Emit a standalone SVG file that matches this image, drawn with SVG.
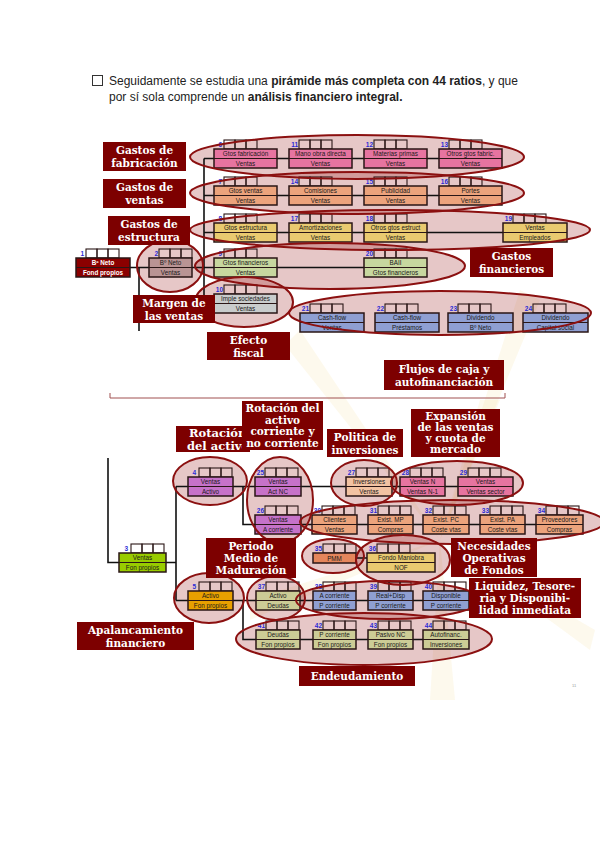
<svg xmlns="http://www.w3.org/2000/svg" width="600" height="848" viewBox="0 0 600 848">
<style>
.hd{font-family:"Liberation Sans",Arial,sans-serif;font-size:12px;fill:#222}
.hb{font-weight:bold}
.n{font-family:"Liberation Sans",Arial,sans-serif;font-size:6.5px;font-weight:bold;fill:#2b2bd6;text-anchor:end}
.sq{fill:none;stroke:#2a1616;stroke-width:1.1}
.bx{stroke:#2a1616;stroke-width:1.5}
.dv{stroke:#2a1616;stroke-width:1}
.t{font-family:"Liberation Sans",Arial,sans-serif;font-size:6.3px;fill:#1a1a1a;text-anchor:middle}
.tw{font-family:"Liberation Sans",Arial,sans-serif;font-size:6.3px;font-weight:bold;fill:#fff;text-anchor:middle}
.pink{fill:#e674a0}.sal{fill:#eca37c}.yel{fill:#e9ca70}.grn{fill:#c7d79f}.gry{fill:#c9cccc}
.blu{fill:#8f9fd2}.red{fill:#8b0000}.ros{fill:#b99494}.lg{fill:#99cc00}.pur{fill:#c672c9}
.pea{fill:#f2c2a2}.ora{fill:#eca37c}.pmm{fill:#e5865c}.gold{fill:#e8a000}.kha{fill:#cccc96}
.ef{fill:#8b0000;fill-opacity:0.22;stroke:none}
.es{fill:none;stroke:#8b1010;stroke-width:2}
.lb{fill:#7d0000}
.lt{font-family:"DejaVu Serif","Liberation Serif",serif;font-size:10.5px;font-weight:bold;fill:#fff;text-anchor:middle}
.ls{font-family:"DejaVu Serif","Liberation Serif",serif;font-size:11.5px;font-weight:bold;fill:#fff}
.ln{stroke:#111;stroke-width:1.6;fill:none}
.ray{fill:#f6e2a6;opacity:0.2}
</style>
<defs>
<clipPath id="clipRot"><rect x="176" y="426" width="66" height="26"/></clipPath>
<g id="E">
<ellipse cx="357" cy="157" rx="167" ry="22"/>
<ellipse cx="357" cy="193" rx="167" ry="21"/>
<ellipse cx="390" cy="230" rx="200" ry="20"/>
<ellipse cx="170" cy="266" rx="33" ry="26"/>
<ellipse cx="330" cy="266" rx="135" ry="23"/>
<ellipse cx="244" cy="302" rx="49" ry="25"/>
<ellipse cx="440" cy="313" rx="151" ry="22"/>
<ellipse cx="210" cy="481" rx="37" ry="24"/>
<ellipse cx="280" cy="500" rx="33" ry="43"/>
<ellipse cx="364" cy="483" rx="33" ry="23"/>
<ellipse cx="457" cy="483" rx="66" ry="22"/>
<ellipse cx="452" cy="522" rx="152" ry="22"/>
<ellipse cx="333" cy="556" rx="31" ry="17"/>
<ellipse cx="403" cy="560" rx="47" ry="25"/>
<ellipse cx="209" cy="598" rx="35" ry="25"/>
<ellipse cx="276" cy="598" rx="29" ry="22"/>
<ellipse cx="388" cy="600" rx="92" ry="19"/>
<ellipse cx="364" cy="639" rx="128" ry="26"/>
</g>
</defs>
<rect width="600" height="848" fill="#fff"/>
<g id="watermark">
<polygon class="ray" points="440,540 480,400 500,400"/>
<polygon class="ray" points="440,540 300,330 285,345"/>
<polygon class="ray" points="440,540 520,290 540,300"/>
<polygon class="ray" points="440,540 430,700 455,700"/>
<polygon class="ray" points="440,540 590,650 595,630"/>
<polygon class="ray" points="440,540 250,600 250,620"/>
</g>
<g id="intro">
<rect x="92.5" y="75.5" width="10" height="10" fill="none" stroke="#333" stroke-width="1"/>
<text class="hd" x="109" y="85">Seguidamente se estudia una <tspan class="hb">pirámide más completa con 44 ratios</tspan>, y que</text>
<text class="hd" x="109" y="101">por sí sola comprende un <tspan class="hb">análisis financiero integral.</tspan></text>
</g>
<g id="ellipse-fills" class="ef"><use href="#E"/></g>
<g id="connectors">
<path class="ln" d="M130,267.5H149M192,267.5H204M139,267.5V331M204,158.5V303.5"/>
<path class="ln" d="M204,158.5H214M277,158.5H289M352,158.5H364M427,158.5H439"/>
<path class="ln" d="M204,195.5H214M277,195.5H289M352,195.5H364M427,195.5H439"/>
<path class="ln" d="M204,232.5H214M277,232.5H289M352,232.5H364M427,232.5H503"/>
<path class="ln" d="M204,267.5H214M277,267.5H364M204,303.5H214"/>
<path class="ln" d="M108,458V562.5H119M166,562.5H176M176,486.5V600.5M176,486.5H188M176,600.5H188"/>
<path class="ln" d="M233,486.5H255M243,486.5V524.5H255M301,486.5H346M392,486.5H400M445,486.5H458"/>
<path class="ln" d="M301,524.5H312M357,524.5H368M413,524.5H423M469,524.5H480M525,524.5H536M356,558H367"/>
<path class="ln" d="M233,600.5H256M243,600.5V639.5H256M300,600.5H313M356,600.5H368M413,600.5H423"/>
<path class="ln" d="M300,639.5H313M356,639.5H368M413,639.5H423"/>
<path d="M110,393V398H505V393" fill="none" stroke="#a05050" stroke-width="1"/>
</g>
<g id="r1"><text class="n" x="84" y="256">1</text><rect class="sq" x="86" y="249" width="11" height="9"/><rect class="sq" x="97" y="249" width="11" height="9"/><rect class="sq" x="108" y="249" width="11" height="9"/><rect class="bx red" x="76" y="258" width="54" height="19"/><line class="dv" x1="76" y1="267.5" x2="130" y2="267.5"/><text class="tw" x="103" y="265.3">Bº Neto</text><text class="tw" x="103" y="274.8">Fond propios</text></g>
<g id="r2"><text class="n" x="158" y="256">2</text><rect class="sq" x="159" y="249" width="11" height="9"/><rect class="sq" x="170" y="249" width="11" height="9"/><rect class="sq" x="181" y="249" width="11" height="9"/><rect class="bx ros" x="149" y="258" width="43" height="19"/><line class="dv" x1="149" y1="267.5" x2="192" y2="267.5"/><text class="t" x="170.5" y="265.3">Bº Neto</text><text class="t" x="170.5" y="274.8">Ventas</text></g>
<g id="r6"><text class="n" x="222" y="147">6</text><rect class="sq" x="224" y="140" width="11" height="9"/><rect class="sq" x="235" y="140" width="11" height="9"/><rect class="sq" x="246" y="140" width="11" height="9"/><rect class="bx pink" x="214" y="149" width="63" height="19"/><line class="dv" x1="214" y1="158.5" x2="277" y2="158.5"/><text class="t" x="245.5" y="156.3">Gtos fabricación</text><text class="t" x="245.5" y="165.8">Ventas</text></g>
<g id="r11"><text class="n" x="298" y="147">11</text><rect class="sq" x="299" y="140" width="11" height="9"/><rect class="sq" x="310" y="140" width="11" height="9"/><rect class="sq" x="321" y="140" width="11" height="9"/><rect class="bx pink" x="289" y="149" width="63" height="19"/><line class="dv" x1="289" y1="158.5" x2="352" y2="158.5"/><text class="t" x="320.5" y="156.3">Mano obra directa</text><text class="t" x="320.5" y="165.8">Ventas</text></g>
<g id="r12"><text class="n" x="373" y="147">12</text><rect class="sq" x="374" y="140" width="11" height="9"/><rect class="sq" x="385" y="140" width="11" height="9"/><rect class="sq" x="396" y="140" width="11" height="9"/><rect class="bx pink" x="364" y="149" width="63" height="19"/><line class="dv" x1="364" y1="158.5" x2="427" y2="158.5"/><text class="t" x="395.5" y="156.3">Materias primas</text><text class="t" x="395.5" y="165.8">Ventas</text></g>
<g id="r13"><text class="n" x="448" y="147">13</text><rect class="sq" x="449" y="140" width="11" height="9"/><rect class="sq" x="460" y="140" width="11" height="9"/><rect class="sq" x="471" y="140" width="11" height="9"/><rect class="bx pink" x="439" y="149" width="63" height="19"/><line class="dv" x1="439" y1="158.5" x2="502" y2="158.5"/><text class="t" x="470.5" y="156.3">Otros gtos fabric.</text><text class="t" x="470.5" y="165.8">Ventas</text></g>
<g id="r7"><text class="n" x="222" y="184">7</text><rect class="sq" x="224" y="177" width="11" height="9"/><rect class="sq" x="235" y="177" width="11" height="9"/><rect class="sq" x="246" y="177" width="11" height="9"/><rect class="bx sal" x="214" y="186" width="63" height="19"/><line class="dv" x1="214" y1="195.5" x2="277" y2="195.5"/><text class="t" x="245.5" y="193.3">Gtos ventas</text><text class="t" x="245.5" y="202.8">Ventas</text></g>
<g id="r14"><text class="n" x="298" y="184">14</text><rect class="sq" x="299" y="177" width="11" height="9"/><rect class="sq" x="310" y="177" width="11" height="9"/><rect class="sq" x="321" y="177" width="11" height="9"/><rect class="bx sal" x="289" y="186" width="63" height="19"/><line class="dv" x1="289" y1="195.5" x2="352" y2="195.5"/><text class="t" x="320.5" y="193.3">Comisiones</text><text class="t" x="320.5" y="202.8">Ventas</text></g>
<g id="r15"><text class="n" x="373" y="184">15</text><rect class="sq" x="374" y="177" width="11" height="9"/><rect class="sq" x="385" y="177" width="11" height="9"/><rect class="sq" x="396" y="177" width="11" height="9"/><rect class="bx sal" x="364" y="186" width="63" height="19"/><line class="dv" x1="364" y1="195.5" x2="427" y2="195.5"/><text class="t" x="395.5" y="193.3">Publicidad</text><text class="t" x="395.5" y="202.8">Ventas</text></g>
<g id="r16"><text class="n" x="448" y="184">16</text><rect class="sq" x="449" y="177" width="11" height="9"/><rect class="sq" x="460" y="177" width="11" height="9"/><rect class="sq" x="471" y="177" width="11" height="9"/><rect class="bx sal" x="439" y="186" width="63" height="19"/><line class="dv" x1="439" y1="195.5" x2="502" y2="195.5"/><text class="t" x="470.5" y="193.3">Portes</text><text class="t" x="470.5" y="202.8">Ventas</text></g>
<g id="r8"><text class="n" x="222" y="221">8</text><rect class="sq" x="224" y="214" width="11" height="9"/><rect class="sq" x="235" y="214" width="11" height="9"/><rect class="sq" x="246" y="214" width="11" height="9"/><rect class="bx yel" x="214" y="223" width="63" height="19"/><line class="dv" x1="214" y1="232.5" x2="277" y2="232.5"/><text class="t" x="245.5" y="230.3">Gtos estructura</text><text class="t" x="245.5" y="239.8">Ventas</text></g>
<g id="r17"><text class="n" x="298" y="221">17</text><rect class="sq" x="299" y="214" width="11" height="9"/><rect class="sq" x="310" y="214" width="11" height="9"/><rect class="sq" x="321" y="214" width="11" height="9"/><rect class="bx yel" x="289" y="223" width="63" height="19"/><line class="dv" x1="289" y1="232.5" x2="352" y2="232.5"/><text class="t" x="320.5" y="230.3">Amortizaciones</text><text class="t" x="320.5" y="239.8">Ventas</text></g>
<g id="r18"><text class="n" x="373" y="221">18</text><rect class="sq" x="374" y="214" width="11" height="9"/><rect class="sq" x="385" y="214" width="11" height="9"/><rect class="sq" x="396" y="214" width="11" height="9"/><rect class="bx yel" x="364" y="223" width="63" height="19"/><line class="dv" x1="364" y1="232.5" x2="427" y2="232.5"/><text class="t" x="395.5" y="230.3">Otros gtos estruct</text><text class="t" x="395.5" y="239.8">Ventas</text></g>
<g id="r19"><text class="n" x="512" y="221">19</text><rect class="sq" x="513" y="214" width="11" height="9"/><rect class="sq" x="524" y="214" width="11" height="9"/><rect class="sq" x="535" y="214" width="11" height="9"/><rect class="bx yel" x="503" y="223" width="64" height="19"/><line class="dv" x1="503" y1="232.5" x2="567" y2="232.5"/><text class="t" x="535" y="230.3">Ventas</text><text class="t" x="535" y="239.8">Empleados</text></g>
<g id="r9"><text class="n" x="222" y="256">9</text><rect class="sq" x="224" y="249" width="11" height="9"/><rect class="sq" x="235" y="249" width="11" height="9"/><rect class="sq" x="246" y="249" width="11" height="9"/><rect class="bx grn" x="214" y="258" width="63" height="19"/><line class="dv" x1="214" y1="267.5" x2="277" y2="267.5"/><text class="t" x="245.5" y="265.3">Gtos financieros</text><text class="t" x="245.5" y="274.8">Ventas</text></g>
<g id="r20"><text class="n" x="373" y="256">20</text><rect class="sq" x="374" y="249" width="11" height="9"/><rect class="sq" x="385" y="249" width="11" height="9"/><rect class="sq" x="396" y="249" width="11" height="9"/><rect class="bx grn" x="364" y="258" width="63" height="19"/><line class="dv" x1="364" y1="267.5" x2="427" y2="267.5"/><text class="t" x="395.5" y="265.3">BAII</text><text class="t" x="395.5" y="274.8">Gtos financieros</text></g>
<g id="r10"><text class="n" x="223" y="292">10</text><rect class="sq" x="224" y="285" width="11" height="9"/><rect class="sq" x="235" y="285" width="11" height="9"/><rect class="sq" x="246" y="285" width="11" height="9"/><rect class="bx gry" x="214" y="294" width="63" height="19"/><line class="dv" x1="214" y1="303.5" x2="277" y2="303.5"/><text class="t" x="245.5" y="301.3">Imple sociedades</text><text class="t" x="245.5" y="310.8">Ventas</text></g>
<g id="r21"><text class="n" x="309" y="311">21</text><rect class="sq" x="310" y="304" width="11" height="9"/><rect class="sq" x="321" y="304" width="11" height="9"/><rect class="sq" x="332" y="304" width="11" height="9"/><rect class="bx blu" x="300" y="313" width="64" height="19"/><line class="dv" x1="300" y1="322.5" x2="364" y2="322.5"/><text class="t" x="332" y="320.3">Cash-flow</text><text class="t" x="332" y="329.8">Ventas</text></g>
<g id="r22"><text class="n" x="384" y="311">22</text><rect class="sq" x="385" y="304" width="11" height="9"/><rect class="sq" x="396" y="304" width="11" height="9"/><rect class="sq" x="407" y="304" width="11" height="9"/><rect class="bx blu" x="375" y="313" width="64" height="19"/><line class="dv" x1="375" y1="322.5" x2="439" y2="322.5"/><text class="t" x="407" y="320.3">Cash-flow</text><text class="t" x="407" y="329.8">Préstamos</text></g>
<g id="r23"><text class="n" x="457" y="311">23</text><rect class="sq" x="458" y="304" width="11" height="9"/><rect class="sq" x="469" y="304" width="11" height="9"/><rect class="sq" x="480" y="304" width="11" height="9"/><rect class="bx blu" x="448" y="313" width="65" height="19"/><line class="dv" x1="448" y1="322.5" x2="513" y2="322.5"/><text class="t" x="480.5" y="320.3">Dividendo</text><text class="t" x="480.5" y="329.8">Bº Neto</text></g>
<g id="r24"><text class="n" x="532" y="311">24</text><rect class="sq" x="533" y="304" width="11" height="9"/><rect class="sq" x="544" y="304" width="11" height="9"/><rect class="sq" x="555" y="304" width="11" height="9"/><rect class="bx blu" x="523" y="313" width="65" height="19"/><line class="dv" x1="523" y1="322.5" x2="588" y2="322.5"/><text class="t" x="555.5" y="320.3">Dividendo</text><text class="t" x="555.5" y="329.8">Capital social</text></g>
<g id="r3"><text class="n" x="128" y="551">3</text><rect class="sq" x="131" y="544" width="11" height="9"/><rect class="sq" x="142" y="544" width="11" height="9"/><rect class="sq" x="153" y="544" width="11" height="9"/><rect class="bx lg" x="119" y="553" width="47" height="19"/><line class="dv" x1="119" y1="562.5" x2="166" y2="562.5"/><text class="t" x="142.5" y="560.3">Ventas</text><text class="t" x="142.5" y="569.8">Fon propios</text></g>
<g id="r4"><text class="n" x="196" y="475">4</text><rect class="sq" x="199" y="468" width="11" height="9"/><rect class="sq" x="210" y="468" width="11" height="9"/><rect class="sq" x="221" y="468" width="11" height="9"/><rect class="bx pur" x="188" y="477" width="45" height="19"/><line class="dv" x1="188" y1="486.5" x2="233" y2="486.5"/><text class="t" x="210.5" y="484.3">Ventas</text><text class="t" x="210.5" y="493.8">Activo</text></g>
<g id="r5"><text class="n" x="196" y="589">5</text><rect class="sq" x="199" y="582" width="11" height="9"/><rect class="sq" x="210" y="582" width="11" height="9"/><rect class="sq" x="221" y="582" width="11" height="9"/><rect class="bx gold" x="188" y="591" width="45" height="19"/><line class="dv" x1="188" y1="600.5" x2="233" y2="600.5"/><text class="t" x="210.5" y="598.3">Activo</text><text class="t" x="210.5" y="607.8">Fon propios</text></g>
<g id="r25"><text class="n" x="264" y="475">25</text><rect class="sq" x="265" y="468" width="11" height="9"/><rect class="sq" x="276" y="468" width="11" height="9"/><rect class="sq" x="287" y="468" width="11" height="9"/><rect class="bx pur" x="255" y="477" width="46" height="19"/><line class="dv" x1="255" y1="486.5" x2="301" y2="486.5"/><text class="t" x="278" y="484.3">Ventas</text><text class="t" x="278" y="493.8">Act NC</text></g>
<g id="r26"><text class="n" x="264" y="513">26</text><rect class="sq" x="265" y="506" width="11" height="9"/><rect class="sq" x="276" y="506" width="11" height="9"/><rect class="sq" x="287" y="506" width="11" height="9"/><rect class="bx pur" x="255" y="515" width="46" height="19"/><line class="dv" x1="255" y1="524.5" x2="301" y2="524.5"/><text class="t" x="278" y="522.3">Ventas</text><text class="t" x="278" y="531.8">A corriente</text></g>
<g id="r27"><text class="n" x="355" y="475">27</text><rect class="sq" x="356" y="468" width="11" height="9"/><rect class="sq" x="367" y="468" width="11" height="9"/><rect class="sq" x="378" y="468" width="11" height="9"/><rect class="bx pea" x="346" y="477" width="46" height="19"/><line class="dv" x1="346" y1="486.5" x2="392" y2="486.5"/><text class="t" x="369" y="484.3">Inversiones</text><text class="t" x="369" y="493.8">Ventas</text></g>
<g id="r28"><text class="n" x="409" y="475">28</text><rect class="sq" x="410" y="468" width="11" height="9"/><rect class="sq" x="421" y="468" width="11" height="9"/><rect class="sq" x="432" y="468" width="11" height="9"/><rect class="bx pink" x="400" y="477" width="45" height="19"/><line class="dv" x1="400" y1="486.5" x2="445" y2="486.5"/><text class="t" x="422.5" y="484.3">Ventas N</text><text class="t" x="422.5" y="493.8">Ventas N-1</text></g>
<g id="r29"><text class="n" x="467" y="475">29</text><rect class="sq" x="468" y="468" width="11" height="9"/><rect class="sq" x="479" y="468" width="11" height="9"/><rect class="sq" x="490" y="468" width="11" height="9"/><rect class="bx pink" x="458" y="477" width="55" height="19"/><line class="dv" x1="458" y1="486.5" x2="513" y2="486.5"/><text class="t" x="485.5" y="484.3">Ventas</text><text class="t" x="485.5" y="493.8">Ventas sector</text></g>
<g id="r30"><text class="n" x="321" y="513">30</text><rect class="sq" x="322" y="506" width="11" height="9"/><rect class="sq" x="333" y="506" width="11" height="9"/><rect class="sq" x="344" y="506" width="11" height="9"/><rect class="bx ora" x="312" y="515" width="45" height="19"/><line class="dv" x1="312" y1="524.5" x2="357" y2="524.5"/><text class="t" x="334.5" y="522.3">Clientes</text><text class="t" x="334.5" y="531.8">Ventas</text></g>
<g id="r31"><text class="n" x="377" y="513">31</text><rect class="sq" x="378" y="506" width="11" height="9"/><rect class="sq" x="389" y="506" width="11" height="9"/><rect class="sq" x="400" y="506" width="11" height="9"/><rect class="bx ora" x="368" y="515" width="45" height="19"/><line class="dv" x1="368" y1="524.5" x2="413" y2="524.5"/><text class="t" x="390.5" y="522.3">Exist. MP</text><text class="t" x="390.5" y="531.8">Compras</text></g>
<g id="r32"><text class="n" x="432" y="513">32</text><rect class="sq" x="433" y="506" width="11" height="9"/><rect class="sq" x="444" y="506" width="11" height="9"/><rect class="sq" x="455" y="506" width="11" height="9"/><rect class="bx ora" x="423" y="515" width="46" height="19"/><line class="dv" x1="423" y1="524.5" x2="469" y2="524.5"/><text class="t" x="446" y="522.3">Exist. PC</text><text class="t" x="446" y="531.8">Coste vtas</text></g>
<g id="r33"><text class="n" x="489" y="513">33</text><rect class="sq" x="490" y="506" width="11" height="9"/><rect class="sq" x="501" y="506" width="11" height="9"/><rect class="sq" x="512" y="506" width="11" height="9"/><rect class="bx ora" x="480" y="515" width="45" height="19"/><line class="dv" x1="480" y1="524.5" x2="525" y2="524.5"/><text class="t" x="502.5" y="522.3">Exist. PA</text><text class="t" x="502.5" y="531.8">Coste vtas</text></g>
<g id="r34"><text class="n" x="545" y="513">34</text><rect class="sq" x="546" y="506" width="11" height="9"/><rect class="sq" x="557" y="506" width="11" height="9"/><rect class="sq" x="568" y="506" width="11" height="9"/><rect class="bx ora" x="536" y="515" width="47" height="19"/><line class="dv" x1="536" y1="524.5" x2="583" y2="524.5"/><text class="t" x="559.5" y="522.3">Proveedores</text><text class="t" x="559.5" y="531.8">Compras</text></g>
<g id="r35"><text class="n" x="322" y="551">35</text><rect class="sq" x="323" y="544" width="11" height="9"/><rect class="sq" x="334" y="544" width="11" height="9"/><rect class="sq" x="345" y="544" width="11" height="9"/><rect class="bx pmm" x="313" y="553" width="43" height="10"/><text class="t" x="334.5" y="560.5">PMM</text></g>
<g id="r36"><text class="n" x="376" y="551">36</text><rect class="sq" x="377" y="544" width="11" height="9"/><rect class="sq" x="388" y="544" width="11" height="9"/><rect class="sq" x="399" y="544" width="11" height="9"/><rect class="bx yel" x="367" y="553" width="68" height="19"/><line class="dv" x1="367" y1="562.5" x2="435" y2="562.5"/><text class="t" x="401" y="560.3">Fondo Maniobra</text><text class="t" x="401" y="569.8">NOF</text></g>
<g id="r37"><text class="n" x="265" y="589">37</text><rect class="sq" x="266" y="582" width="11" height="9"/><rect class="sq" x="277" y="582" width="11" height="9"/><rect class="sq" x="288" y="582" width="11" height="9"/><rect class="bx kha" x="256" y="591" width="44" height="19"/><line class="dv" x1="256" y1="600.5" x2="300" y2="600.5"/><text class="t" x="278" y="598.3">Activo</text><text class="t" x="278" y="607.8">Deudas</text></g>
<g id="r38"><text class="n" x="322" y="589">38</text><rect class="sq" x="323" y="582" width="11" height="9"/><rect class="sq" x="334" y="582" width="11" height="9"/><rect class="sq" x="345" y="582" width="11" height="9"/><rect class="bx blu" x="313" y="591" width="43" height="19"/><line class="dv" x1="313" y1="600.5" x2="356" y2="600.5"/><text class="t" x="334.5" y="598.3">A corriente</text><text class="t" x="334.5" y="607.8">P corriente</text></g>
<g id="r39"><text class="n" x="377" y="589">39</text><rect class="sq" x="378" y="582" width="11" height="9"/><rect class="sq" x="389" y="582" width="11" height="9"/><rect class="sq" x="400" y="582" width="11" height="9"/><rect class="bx blu" x="368" y="591" width="45" height="19"/><line class="dv" x1="368" y1="600.5" x2="413" y2="600.5"/><text class="t" x="390.5" y="598.3">Real+Disp</text><text class="t" x="390.5" y="607.8">P corriente</text></g>
<g id="r40"><text class="n" x="432" y="589">40</text><rect class="sq" x="433" y="582" width="11" height="9"/><rect class="sq" x="444" y="582" width="11" height="9"/><rect class="sq" x="455" y="582" width="11" height="9"/><rect class="bx blu" x="423" y="591" width="46" height="19"/><line class="dv" x1="423" y1="600.5" x2="469" y2="600.5"/><text class="t" x="446" y="598.3">Disponible</text><text class="t" x="446" y="607.8">P corriente</text></g>
<g id="r41"><text class="n" x="265" y="628">41</text><rect class="sq" x="266" y="621" width="11" height="9"/><rect class="sq" x="277" y="621" width="11" height="9"/><rect class="sq" x="288" y="621" width="11" height="9"/><rect class="bx kha" x="256" y="630" width="44" height="19"/><line class="dv" x1="256" y1="639.5" x2="300" y2="639.5"/><text class="t" x="278" y="637.3">Deudas</text><text class="t" x="278" y="646.8">Fon propios</text></g>
<g id="r42"><text class="n" x="322" y="628">42</text><rect class="sq" x="323" y="621" width="11" height="9"/><rect class="sq" x="334" y="621" width="11" height="9"/><rect class="sq" x="345" y="621" width="11" height="9"/><rect class="bx kha" x="313" y="630" width="43" height="19"/><line class="dv" x1="313" y1="639.5" x2="356" y2="639.5"/><text class="t" x="334.5" y="637.3">P corriente</text><text class="t" x="334.5" y="646.8">Fon propios</text></g>
<g id="r43"><text class="n" x="377" y="628">43</text><rect class="sq" x="378" y="621" width="11" height="9"/><rect class="sq" x="389" y="621" width="11" height="9"/><rect class="sq" x="400" y="621" width="11" height="9"/><rect class="bx kha" x="368" y="630" width="45" height="19"/><line class="dv" x1="368" y1="639.5" x2="413" y2="639.5"/><text class="t" x="390.5" y="637.3">Pasivo NC</text><text class="t" x="390.5" y="646.8">Fon propios</text></g>
<g id="r44"><text class="n" x="432" y="628">44</text><rect class="sq" x="433" y="621" width="11" height="9"/><rect class="sq" x="444" y="621" width="11" height="9"/><rect class="sq" x="455" y="621" width="11" height="9"/><rect class="bx kha" x="423" y="630" width="46" height="19"/><line class="dv" x1="423" y1="639.5" x2="469" y2="639.5"/><text class="t" x="446" y="637.3">Autofinanc.</text><text class="t" x="446" y="646.8">Inversiones</text></g>
<g id="ellipses" class="es"><use href="#E"/></g>
<g id="lab-fabricacion"><rect class="lb" x="103" y="142" width="83" height="29"/><text class="lt" x="144.5" y="154">Gastos de</text><text class="lt" x="144.5" y="167">fabricación</text></g>
<g id="lab-ventas"><rect class="lb" x="103" y="179" width="83" height="29"/><text class="lt" x="144.5" y="191">Gastos de</text><text class="lt" x="144.5" y="204">ventas</text></g>
<g id="lab-estructura"><rect class="lb" x="108" y="216" width="82" height="29"/><text class="lt" x="149" y="228">Gastos de</text><text class="lt" x="149" y="241">estructura</text></g>
<g id="lab-margen"><rect class="lb" x="133" y="295" width="82" height="28"/><text class="lt" x="174" y="307">Margen de</text><text class="lt" x="174" y="319.5">las ventas</text></g>
<g id="lab-fiscal"><rect class="lb" x="207" y="332" width="83" height="28"/><text class="lt" x="248.5" y="344">Efecto</text><text class="lt" x="248.5" y="356.5">fiscal</text></g>
<g id="lab-financieros"><rect class="lb" x="470" y="248" width="83" height="29"/><text class="lt" x="511.5" y="260">Gastos</text><text class="lt" x="511.5" y="273">financieros</text></g>
<g id="lab-flujos"><rect class="lb" x="384" y="360" width="120" height="30"/><text class="lt" x="444" y="372.5">Flujos de caja y</text><text class="lt" x="444" y="385.5">autofinanciación</text></g>
<g id="lab-rot-activo"><rect class="lb" x="176" y="426" width="74" height="26"/><g clip-path="url(#clipRot)"><text class="ls" x="189" y="437">Rotación</text><text class="ls" x="187" y="449.5">del activo</text></g></g>
<g id="lab-rot-corriente"><rect class="lb" x="242" y="401" width="81" height="49"/><text class="lt" x="282.5" y="412">Rotación del</text><text class="lt" x="282.5" y="423.5">activo</text><text class="lt" x="282.5" y="435">corriente y</text><text class="lt" x="282.5" y="446.5">no corriente</text></g>
<g id="lab-politica"><rect class="lb" x="327" y="429" width="76" height="28"/><text class="lt" x="365" y="441">Politica de</text><text class="lt" x="365" y="453.5">inversiones</text></g>
<g id="lab-expansion"><rect class="lb" x="411" y="409" width="89" height="48"/><text class="lt" x="455.5" y="420">Expansión</text><text class="lt" x="455.5" y="431">de las ventas</text><text class="lt" x="455.5" y="442">y cuota de</text><text class="lt" x="455.5" y="453">mercado</text></g>
<g id="lab-pmm"><rect class="lb" x="206" y="538" width="90" height="40"/><text class="lt" x="251" y="550">Periodo</text><text class="lt" x="251" y="562">Medio de</text><text class="lt" x="251" y="574">Maduración</text></g>
<g id="lab-nof"><rect class="lb" x="451" y="538" width="86" height="39"/><text class="lt" x="494" y="550">Necesidades</text><text class="lt" x="494" y="562">Operativas</text><text class="lt" x="494" y="574">de Fondos</text></g>
<g id="lab-liquidez"><rect class="lb" x="469" y="578" width="112" height="40"/><text class="lt" x="525" y="590">Liquidez, Tesore-</text><text class="lt" x="525" y="602">ria y Disponibi-</text><text class="lt" x="525" y="614">lidad inmediata</text></g>
<g id="lab-apalancamiento"><rect class="lb" x="77" y="622" width="117" height="28"/><text class="lt" x="135.5" y="634">Apalancamiento</text><text class="lt" x="135.5" y="646.5">financiero</text></g>
<g id="lab-endeudamiento"><rect class="lb" x="299" y="666" width="116" height="20"/><text class="lt" x="357" y="680">Endeudamiento</text></g>
<text x="572" y="687" font-family="Liberation Sans, sans-serif" font-size="4" fill="#999">11</text>
</svg>
